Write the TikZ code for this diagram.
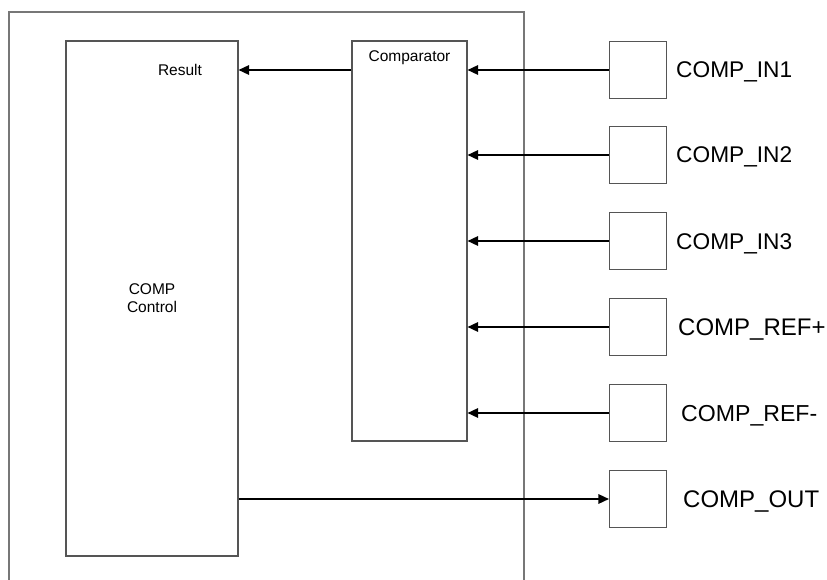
\documentclass[tikz,border=0pt]{standalone}
\usepackage{fontspec}
\setmainfont{Liberation Sans}
\usetikzlibrary{arrows.meta}
\definecolor{boxgray}{HTML}{555555}
\definecolor{outgray}{HTML}{777777}
\begin{document}
\begin{tikzpicture}[x=1pt,y=-1pt,
  blk/.style={draw=boxgray,line width=1.1pt,rectangle,inner sep=0pt,fill=none},
  pin/.style={blk,minimum width=57pt,minimum height=57pt},
  arr/.style={line width=1.5pt,-{Triangle[length=10.5pt,width=9.5pt]}},
  small/.style={font=\fontsize{15.5}{17.5}\selectfont,inner sep=0pt},
  lbl/.style={font=\fontsize{22.7}{26}\selectfont,inner sep=0pt,anchor=base west}]
\useasboundingbox (0,0) rectangle (827,580);
% outer block (bottom edge outside the picture)
\coordinate (o1) at (9,600);
\coordinate (o2) at (9,12);
\coordinate (o3) at (524,12);
\coordinate (o4) at (524,600);
\draw[outgray,line width=1.3pt] (o1) -- (o2) -- (o3) -- (o4);
% blocks
\node[blk,minimum width=172pt,minimum height=515pt] (ctrl) at (152,298.5) {};
\node[blk,minimum width=115pt,minimum height=400pt] (comp) at (409.5,241) {};
\node[small,align=center] (ctrltxt) at (152,298) {COMP\\Control};
\node[small] (restxt) at (180,70) {Result};
\node[small] (comptxt) at (409.5,57.5) {Comparator};
% pins
\node[pin] (in1) at (638,70) {};
\node[pin] (in2) at (638,155) {};
\node[pin] (in3) at (638,241) {};
\node[pin] (refp) at (638,327) {};
\node[pin] (refm) at (638,413) {};
\node[pin] (out) at (638,499) {};
% labels
\node[lbl] (l1) at (676,78) {COMP\_IN1};
\node[lbl] (l2) at (676,163) {COMP\_IN2};
\node[lbl] (l3) at (676,249) {COMP\_IN3};
\node[lbl,font=\fontsize{24}{28}\selectfont] (l4) at (678,335.5) {COMP\_REF+};
\node[lbl,font=\fontsize{23.1}{27}\selectfont] (l5) at (681,421.5) {COMP\_REF-};
\node[lbl,font=\fontsize{24}{28}\selectfont] (l6) at (683,507.5) {COMP\_OUT};
% connectors
\draw[arr] (in1.west) -- (in1.west -| comp.east);
\draw[arr] (in2.west) -- (in2.west -| comp.east);
\draw[arr] (in3.west) -- (in3.west -| comp.east);
\draw[arr] (refp.west) -- (refp.west -| comp.east);
\draw[arr] (refm.west) -- (refm.west -| comp.east);
\draw[arr] (comp.west |- in1.west) -- (ctrl.east |- in1.west);
\draw[arr] (ctrl.east |- out.west) -- (out.west);
\end{tikzpicture}
\end{document}
